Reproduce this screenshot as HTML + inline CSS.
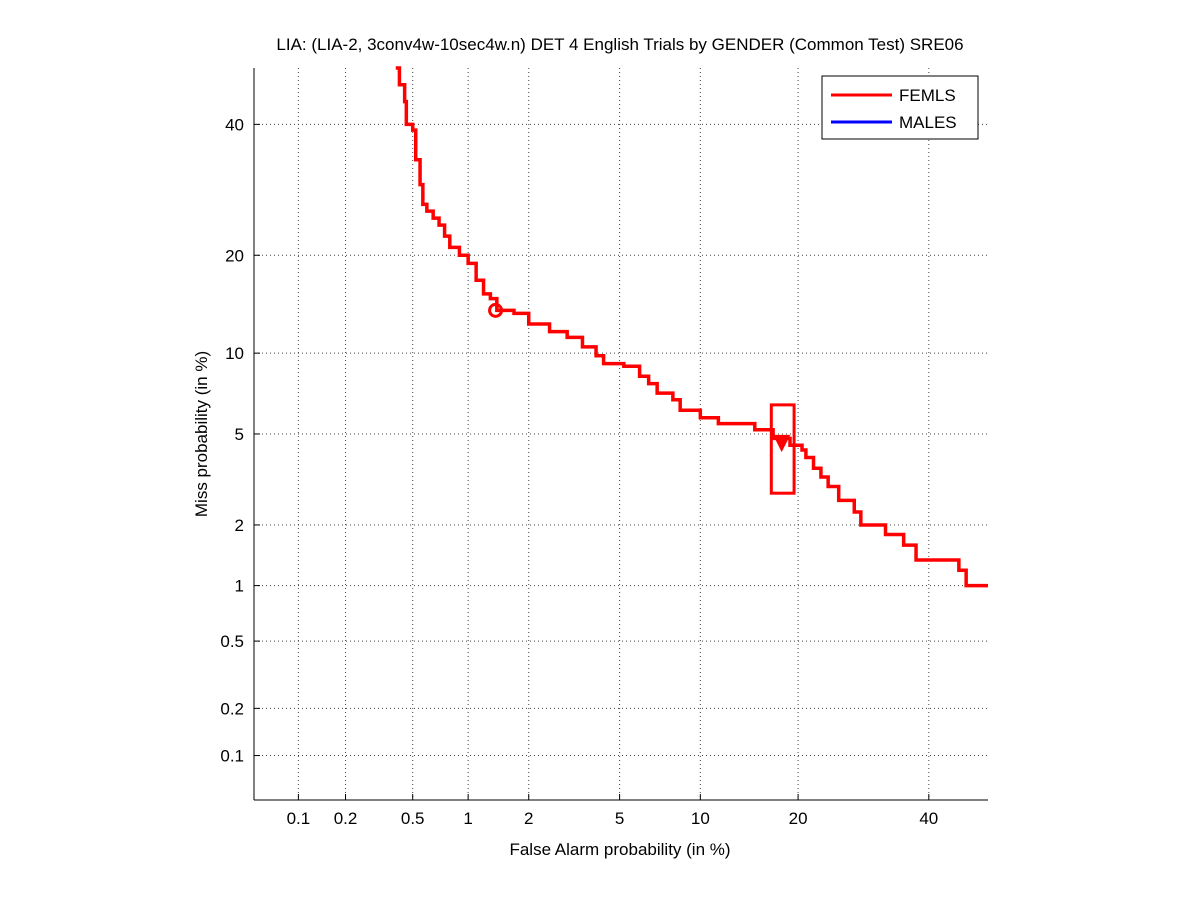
<!DOCTYPE html>
<html><head><meta charset="utf-8"><style>
body{margin:0;background:#fff;}
svg{display:block;font-family:"Liberation Sans",sans-serif;}
</style></head><body>
<svg id="chart" width="1201" height="900">
<rect width="1201" height="900" fill="#fff"/>
<text x="620" y="50" text-anchor="middle" font-size="17">LIA: (LIA-2, 3conv4w-10sec4w.n) DET 4 English Trials by GENDER (Common Test) SRE06</text>
<g id="grid"></g>
<g id="axes"></g>
<g id="series"></g>
<text x="620" y="855" text-anchor="middle" font-size="17">False Alarm probability (in %)</text>
<text transform="translate(207,434) rotate(-90)" text-anchor="middle" font-size="17">Miss probability (in %)</text>
<g>
<rect x="822" y="76" width="156" height="63" fill="#fff" stroke="#000" stroke-width="1"/>
<line x1="831" y1="95" x2="892" y2="95" stroke="#f00" stroke-width="3"/>
<text x="899" y="101" font-size="17">FEMLS</text>
<line x1="831" y1="122" x2="892" y2="122" stroke="#00f" stroke-width="3"/>
<text x="899" y="128" font-size="17">MALES</text>
</g>
</svg>
<script>
const xTicks=[0.1,0.2,0.5,1,2,5,10,20,40];
const yTicks=[0.1,0.2,0.5,1,2,5,10,20,40];
const faValues=[0.40,0.42,0.45,0.46,0.50,0.52,0.55,0.57,0.6,0.65,0.7,0.75,0.8,0.9,1.0,1.1,1.2,1.3,1.4,1.7,2.0,2.5,3.0,3.5,4.0,4.3,5.2,6.0,6.5,7.0,8.0,8.5,10,11.5,15,17,19,20.5,21,22,23,24,25.5,27.8,28.8,32.7,35.7,37.8,45.3,46.6];
const missValues=[50,47,44,40,39,34,30,27,26,25,24,22.5,21,20,19,17,15.5,15,13.8,13.5,12.5,11.8,11.3,10.5,9.8,9.2,9.0,8.3,7.8,7.2,6.8,6.2,5.8,5.5,5.2,4.8,4.5,4.3,4.0,3.6,3.3,3.0,2.6,2.3,2.0,1.8,1.6,1.35,1.2,1.0];
const minDcf=[1.38,13.8];
const actDcf=[18,4.6];
const actBox=[16.8,19.5,2.8,6.5];

function probit(p){
 const a=[-39.69683028665376,220.9460984245205,-275.9285104469687,138.3577518672690,-30.66479806614716,2.506628277459239];
 const b=[-54.47609879822406,161.5858368580409,-155.6989798598866,66.80131188771972,-13.28068155288572];
 const c=[-0.007784894002430293,-0.3223964580411365,-2.400758277161838,-2.549732539343734,4.374664141464968,2.938163982698783];
 const d=[0.007784695709041462,0.3224671290700398,2.445134137142996,3.754408661907416];
 const pl=0.02425;let q,r;
 if(p<pl){q=Math.sqrt(-2*Math.log(p));return (((((c[0]*q+c[1])*q+c[2])*q+c[3])*q+c[4])*q+c[5])/((((d[0]*q+d[1])*q+d[2])*q+d[3])*q+1);}
 if(p<=1-pl){q=p-0.5;r=q*q;return (((((a[0]*r+a[1])*r+a[2])*r+a[3])*r+a[4])*r+a[5])*q/(((((b[0]*r+b[1])*r+b[2])*r+b[3])*r+b[4])*r+1);}
 q=Math.sqrt(-2*Math.log(1-p));return -(((((c[0]*q+c[1])*q+c[2])*q+c[3])*q+c[4])*q+c[5])/((((d[0]*q+d[1])*q+d[2])*q+d[3])*q+1);
}
const L=254,R=988,T=68,B=800,pMin=-3.29,pMax=0.013;
function X(pct){return L+(probit(pct/100)-pMin)/(pMax-pMin)*(R-L);}
function Y(pct){return B-(probit(Math.min(pct,49.99)/100)-pMin)/(0-pMin)*(B-T);}
const NS="http://www.w3.org/2000/svg";
function mk(tag,attrs,parent){const e=document.createElementNS(NS,tag);for(const k in attrs)e.setAttribute(k,attrs[k]);parent.appendChild(e);return e;}
const grid=document.getElementById('grid'),axes=document.getElementById('axes'),series=document.getElementById('series');
xTicks.forEach(t=>{const x=X(t);
 const g=mk('line',{x1:x,x2:x,y1:T,y2:B,stroke:'#444','stroke-width':1,'stroke-dasharray':'1,3'},grid);
 
 
 mk('line',{x1:x,x2:x,y1:B,y2:B-6,stroke:'#000'},axes);
 const tx=mk('text',{x:x,y:B+24,'text-anchor':'middle','font-size':17},axes);tx.textContent=t;
 
 
});
yTicks.forEach(t=>{const y=Y(t);
 const g=mk('line',{x1:L,x2:R,y1:y,y2:y,stroke:'#444','stroke-width':1,'stroke-dasharray':'1,3'},grid);
 
 
 mk('line',{x1:L,x2:L+6,y1:y,y2:y,stroke:'#000'},axes);
 const tx=mk('text',{x:L-10,y:y+6,'text-anchor':'end','font-size':17},axes);tx.textContent=t;
 
 
});
mk('line',{x1:L,x2:L,y1:T,y2:B,stroke:'#000'},axes);
mk('line',{x1:L,x2:R,y1:B,y2:B,stroke:'#000'},axes);
let d='M'+X(faValues[0])+','+Y(missValues[0]);
for(let i=1;i<faValues.length;i++){d+=' L'+X(faValues[i])+','+Y(missValues[i-1])+' L'+X(faValues[i])+','+Y(missValues[i]);}
d+=' L'+R+','+Y(missValues[missValues.length-1]);
const path=mk('path',{d:d,fill:'none',stroke:'#f00','stroke-width':3.5},series);


const c=mk('circle',{cx:X(minDcf[0]),cy:Y(minDcf[1]),r:6,fill:'none',stroke:'#f00','stroke-width':3},series);


const bx=mk('rect',{x:X(actBox[0]),y:Y(actBox[3]),width:X(actBox[1])-X(actBox[0]),height:Y(actBox[2])-Y(actBox[3]),fill:'none',stroke:'#f00','stroke-width':3},series);


const ax=X(actDcf[0]),ay=Y(actDcf[1]);
const tri=mk('polygon',{points:(ax-7)+','+(ay-7)+' '+(ax+7)+','+(ay-7)+' '+ax+','+(ay+7),fill:'#f00',stroke:'#f00','stroke-width':2},series);


</script>
</body></html>
